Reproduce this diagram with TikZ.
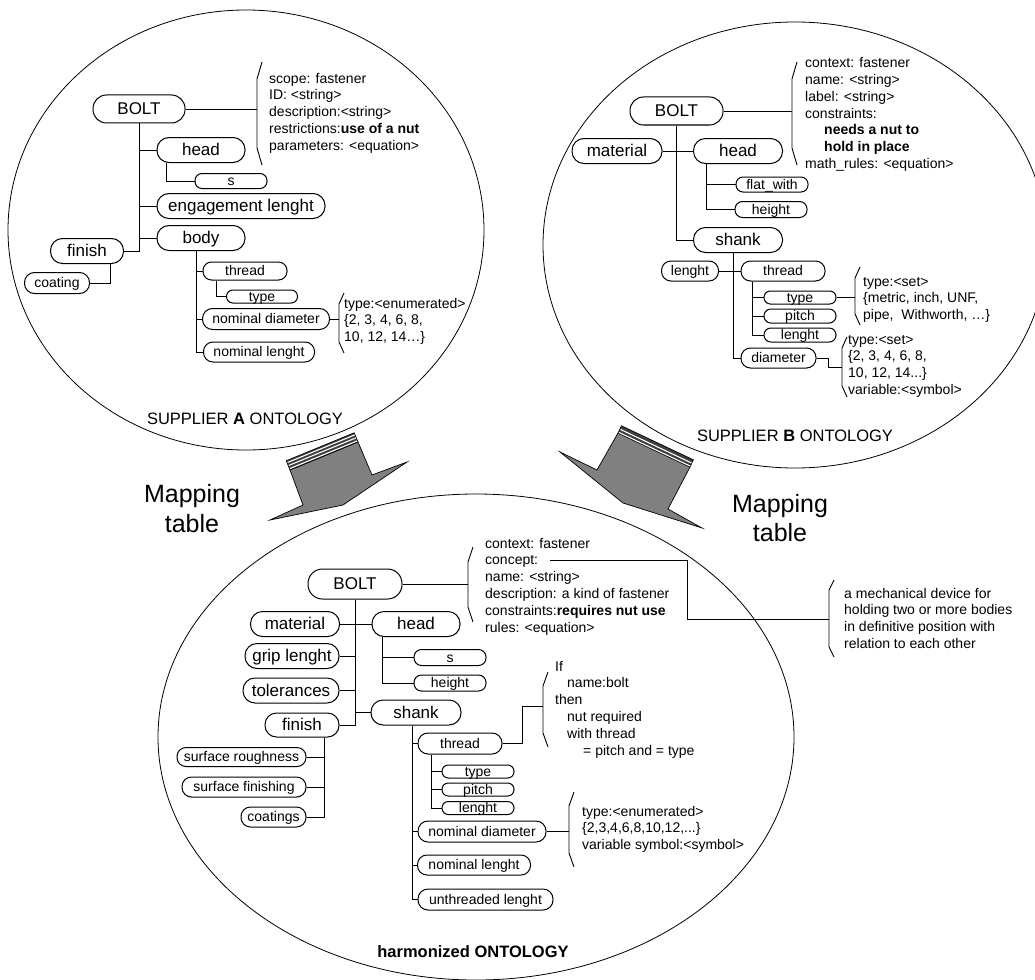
\documentclass[tikz,border=0pt]{standalone}
\usepackage{fontspec}
\setmainfont{Liberation Sans}
\usetikzlibrary{calc}
\definecolor{arrowgray}{HTML}{808080}
\definecolor{lidgray}{HTML}{3C3C3C}
% curly attribute bracket: x, top, bottom, slant height
\newcommand\attrbrace[4]{\draw[lnk] (#1+5,#2) -- (#1,#2+#4) -- (#1,#3-#4) -- (#1+5,#3);}
\begin{document}
\begin{tikzpicture}[x=1pt,y=-1pt,
  lnk/.style={line width=0.9pt},
  oval/.style={line width=0.8pt},
  pill/.style n args={3}{draw, line width=1pt, fill=white, inner sep=0pt,
    minimum width=#1, minimum height=#2, rounded corners=#3},
  big/.style={font=\fontsize{17pt}{20pt}\selectfont, text height=12.7pt, text depth=0.8pt},
  sml/.style={font=\fontsize{14pt}{16.8pt}\selectfont, text height=10.5pt, text depth=0.7pt},
  attr/.style={anchor=north west, inner sep=0pt, align=left, font=\fontsize{14pt}{16.8pt}\selectfont},
  title/.style={anchor=base, inner sep=0pt, font=\fontsize{16.5pt}{20pt}\selectfont},
  maptxt/.style={anchor=north, inner sep=0pt, align=center, font=\fontsize{25pt}{30pt}\selectfont},
  lid/.style={fill=lidgray, draw=black, line width=0.6pt},
  bigarrow/.style={fill=arrowgray, draw=black, line width=0.7pt},
]
\useasboundingbox (0,0) rectangle (1035,979);
\clip (0,0) rectangle (1035,979);

% ---------- the three ontology ovals ----------
\draw[oval] (246,230) ellipse [x radius=238pt, y radius=220pt];
\draw[oval] (795,245) ellipse [x radius=252pt, y radius=223pt];
\draw[oval] (476,737) ellipse [x radius=318pt, y radius=243pt];

% ---------- mapping arrows ----------
\filldraw[bigarrow] (290,470) -- (358,442) -- (372,475) -- (407,462) -- (343,505) -- (270,520) -- (303,505) -- cycle;
\filldraw[lid] (290,470) -- (358,442) -- ($(358,442)+10*(-0.381,-0.925)$) -- ($(290,470)+10*(-0.381,-0.925)$) -- cycle;
\foreach \d in {1.1,4.4,7.6}
  \draw[white, line width=1.1pt] ($(290.5,469.5)+\d*(-0.381,-0.925)$) -- ($(357.5,442)+\d*(-0.381,-0.925)$);

\filldraw[bigarrow] (618,433) -- (690,467) -- (668,509) -- (702,528) -- (623,503) -- (560,452) -- (597,470) -- cycle;
\filldraw[lid] (618,433) -- (690,467) -- ($(690,467)+8*(0.427,-0.905)$) -- ($(618,433)+8*(0.427,-0.905)$) -- cycle;
\foreach \d in {1.1,4.5}
  \draw[white, line width=1.1pt] ($(618.5,433.5)+\d*(0.427,-0.905)$) -- ($(689.5,467)+\d*(0.427,-0.905)$);

\node[maptxt] (mapA) at (192,481) {\strut Mapping\\table};
\node[maptxt, font=\fontsize{25pt}{29pt}\selectfont] (mapB) at (780,491.7) {\strut Mapping\\table};

% ================= SUPPLIER A =================
\node[pill={92}{28}{13.5pt}, big] (boltA) at (139,109) {BOLT};
\node[pill={88}{25}{12pt}, big] (headA) at (201,150) {head};
\node[pill={72}{15}{7pt}, sml] (sA) at (231,181) {s};
\node[pill={168}{25}{12pt}, big] (engA) at (241,206) {engagement lenght};
\node[pill={88}{25}{12pt}, big] (bodyA) at (201,238) {body};
\node[pill={73}{25}{12pt}, big] (finishA) at (87,251) {finish};
\node[pill={65}{21}{10pt}, sml] (coatingA) at (57,283) {coating};
\node[pill={84}{18}{8.5pt}, sml] (threadA) at (245,271) {thread};
\node[pill={71}{13}{6.3pt}, sml] (typeA) at (262,296.5) {type};
\node[pill={127}{21}{10pt}, sml] (ndA) at (266,319) {nominal diameter};
\node[pill={111}{20}{9.5pt}, sml] (nlA) at (259,352) {nominal lenght};

\draw[lnk] (boltA.south) |- (finishA.east);
\foreach \n in {headA,engA,bodyA} \draw[lnk] (boltA.south |- \n.west) -- (\n.west);
\coordinate (tHA) at ([xshift=10pt]headA.south west);
\draw[lnk] (tHA) |- (sA.west);
\coordinate (tBA) at ([xshift=40pt]bodyA.south west);
\draw[lnk] (tBA) |- (nlA.west);
\foreach \n in {threadA,ndA} \draw[lnk] (tBA |- \n.west) -- (\n.west);
\coordinate (tTA) at ([xshift=14pt]threadA.south west);
\draw[lnk] (tTA) |- (typeA.west);
\coordinate (tFA) at ([xshift=-14pt]finishA.south east);
\draw[lnk] (tFA) |- (coatingA.east);

\coordinate (jA) at (257,0);
\attrbrace{257}{62}{165}{17}
\draw[lnk] (boltA.east) -- (boltA.east -| jA);
\node[attr] (attrA) at (269,71.2) {\strut scope: fastener\\ID: <string>\\description:<string>\\restrictions:\textbf{use of a nut}\\parameters: <equation>};

\coordinate (jAnd) at (339,0);
\attrbrace{339}{293}{353}{11}
\draw[lnk] (ndA.east) -- (ndA.east -| jAnd);
\node[attr] (enumA) at (344,296.2) {\strut type:<enumerated>\\\{2, 3, 4, 6, 8,\\10, 12, 14…\}};

\node[title] (titleA) at (245,424) {SUPPLIER \textbf{A} ONTOLOGY};

% ================= SUPPLIER B =================
\node[pill={93}{28}{13.5pt}, big] (boltB) at (676.5,111) {BOLT};
\node[pill={90}{25}{12pt}, big] (materialB) at (617,151) {material};
\node[pill={89}{25}{12pt}, big] (headB) at (738,151) {head};
\node[pill={72}{15}{7pt}, sml] (flatB) at (772,184.5) {flat\_with};
\node[pill={72}{16}{7.5pt}, sml] (heightB) at (771,209.5) {height};
\node[pill={89}{25}{12pt}, big] (shankB) at (738,240) {shank};
\node[pill={57}{20}{9.5pt}, sml] (lenB) at (690,271) {lenght};
\node[pill={84}{20}{9.5pt}, sml] (threadB) at (783,271) {thread};
\node[pill={72}{13}{6.3pt}, sml] (typeB) at (800,297.5) {type};
\node[pill={72}{14}{6.8pt}, sml] (pitchB) at (800,316) {pitch};
\node[pill={72}{14}{6.8pt}, sml] (len2B) at (800,335) {lenght};
\node[pill={75}{20}{9.5pt}, sml] (diamB) at (778.5,358) {diameter};

\draw[lnk] (boltB.south) |- (shankB.west);
\draw[lnk] (materialB.east) -- (headB.west);
\coordinate (tHB) at ([xshift=13pt]headB.south west);
\draw[lnk] (tHB) |- (heightB.west);
\draw[lnk] (tHB |- flatB.west) -- (flatB.west);
\coordinate (tSB) at ([xshift=40pt]shankB.south west);
\draw[lnk] (tSB) |- (diamB.west);
\draw[lnk] (lenB.east) -- (threadB.west);
\coordinate (tTB) at ([xshift=12pt]threadB.south west);
\draw[lnk] (tTB) |- (len2B.west);
\foreach \n in {typeB,pitchB} \draw[lnk] (tTB |- \n.west) -- (\n.west);

\coordinate (jB) at (792,0);
\attrbrace{792}{62}{165}{17}
\draw[lnk] (boltB.east) -- (boltB.east -| jB);
\node[attr] (attrB) at (805,55.7) {\strut context: fastener\\name: <string>\\label: <string>\\constraints:\\\hspace*{19pt}\textbf{needs a nut to}\\\hspace*{19pt}\textbf{hold in place}\\math\_rules: <equation>};

\coordinate (jBt) at (855,0);
\attrbrace{855}{267}{325}{11}
\draw[lnk] (typeB.east) -- (typeB.east -| jBt);
\node[attr] (setB) at (863,274.2) {\strut type:<set>\\\{metric, inch, UNF,\\pipe,\ \ Withworth, …\}};

\coordinate (jBd) at (842,367);
\attrbrace{842}{337}{397}{11}
\draw[lnk] (diamB.east) -- ++(12,0) |- (jBd);
\node[attr] (diamsetB) at (848,332.2) {\strut type:<set>\\\{2, 3, 4, 6, 8,\\10, 12, 14...\}\\variable:<symbol>};

\node[title] (titleB) at (795,441.7) {SUPPLIER \textbf{B} ONTOLOGY};

% ================= HARMONIZED =================
\node[pill={94}{30}{14.5pt}, big] (boltH) at (355,584) {BOLT};
\node[pill={89}{25}{12pt}, big] (materialH) at (295,624) {material};
\node[pill={88}{25}{12pt}, big] (headH) at (416,624) {head};
\node[pill={72}{16}{7.5pt}, sml] (sH) at (450,657.5) {s};
\node[pill={72}{16}{7.5pt}, sml] (heightH) at (450,683) {height};
\node[pill={94}{25}{12pt}, big] (gripH) at (292,656) {grip lenght};
\node[pill={96}{25}{12pt}, big] (tolH) at (291,690.5) {tolerances};
\node[pill={90}{25}{12pt}, big] (shankH) at (416,712.5) {shank};
\node[pill={74}{24}{11.5pt}, big] (finishH) at (302,725) {finish};
\node[pill={129}{19}{9pt}, sml] (srH) at (241.5,757) {surface roughness};
\node[pill={124}{20}{9.5pt}, sml] (sfH) at (244,787) {surface finishing};
\node[pill={65}{20}{9.5pt}, sml] (coatH) at (273.5,817) {coatings};
\node[pill={84}{21}{10pt}, sml] (threadH) at (460,743.5) {thread};
\node[pill={72}{13}{6.3pt}, sml] (typeH) at (478,771.5) {type};
\node[pill={72}{13}{6.3pt}, sml] (pitchH) at (478,789.5) {pitch};
\node[pill={72}{13}{6.3pt}, sml] (lenH) at (478,808) {lenght};
\node[pill={128}{21}{10pt}, sml] (ndH) at (482,831.5) {nominal diameter};
\node[pill={113}{20}{9.5pt}, sml] (nlH) at (474,865) {nominal lenght};
\node[pill={135}{21}{10pt}, sml] (ulH) at (485.5,899.5) {unthreaded lenght};

\draw[lnk] (boltH.south) |- (finishH.east);
\draw[lnk] (materialH.east) -- (headH.west);
\foreach \n in {gripH,tolH} \draw[lnk] (\n.east) -- (\n.east -| boltH.south);
\draw[lnk] (boltH.south |- shankH.west) -- (shankH.west);
\coordinate (tHH) at ([xshift=11pt]headH.south west);
\draw[lnk] (tHH) |- (heightH.west);
\draw[lnk] (tHH |- sH.west) -- (sH.west);
\coordinate (tFH) at ([xshift=-15pt]finishH.south east);
\draw[lnk] (tFH) |- (coatH.east);
\foreach \n in {srH,sfH} \draw[lnk] (tFH |- \n.east) -- (\n.east);
\coordinate (tSH) at ([xshift=42pt]shankH.south west);
\draw[lnk] (tSH) |- (ulH.west);
\foreach \n in {threadH,ndH,nlH} \draw[lnk] (tSH |- \n.west) -- (\n.west);
\coordinate (tTH) at ([xshift=14pt]threadH.south west);
\draw[lnk] (tTH) |- (lenH.west);
\foreach \n in {typeH,pitchH} \draw[lnk] (tTH |- \n.west) -- (\n.west);

\coordinate (jBH) at (468,0);
\attrbrace{468}{547}{622}{15}
\draw[lnk] (boltH.east) -- (boltH.east -| jBH);
\node[attr] (attrH) at (485,536.2) {\strut context: fastener\\concept:\\name: <string>\\description: a kind of fastener\\constraints:\textbf{requires nut use}\\rules: <equation>};

\coordinate (jIf) at (543,706);
\attrbrace{543}{672}{747}{14}
\draw[lnk] (threadH.east) -- ++(20,0) |- (jIf);
\node[attr] (ruleH) at (555,659.2) {\strut If\\\hspace*{12pt}name:bolt\\then\\\hspace*{12pt}nut required\\\hspace*{12pt}with thread\\\hspace*{28pt}= pitch and = type};

\coordinate (jNd) at (569,0);
\attrbrace{569}{792}{867}{14}
\draw[lnk] (ndH.east) -- (ndH.east -| jNd);
\node[attr] (enumH) at (582,804.2) {\strut type:<enumerated>\\\{2,3,4,6,8,10,12,...\}\\variable symbol:<symbol>};

% concept definition
\coordinate (cStart) at (550,560);
\coordinate (cBend) at (687,619);
\coordinate (jC) at (829,619);
\attrbrace{829}{580}{657}{10}
\draw[lnk] (cStart) -| (cBend) -- (jC);
\node[attr] (conceptH) at (844,586.2) {\strut a mechanical device for\\holding two or more bodies\\in definitive position with\\relation to each other};

\node[title, font=\fontsize{16.5pt}{20pt}\selectfont\bfseries] (titleH) at (473,957) {harmonized ONTOLOGY};
\end{tikzpicture}
\end{document}
